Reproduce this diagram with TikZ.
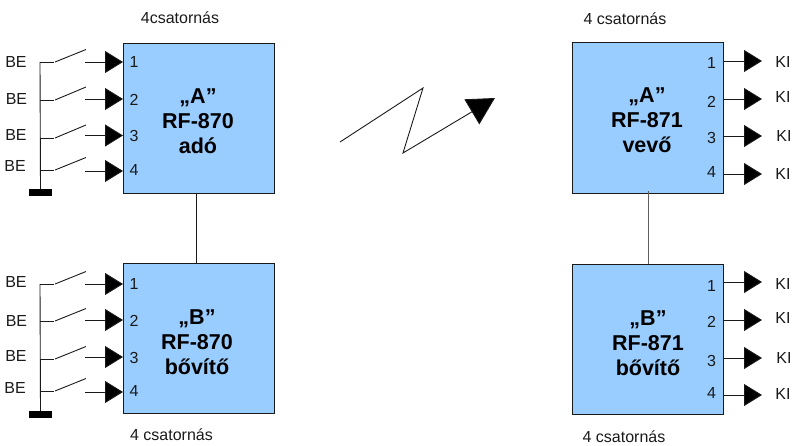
\documentclass[tikz,border=0pt]{standalone}
\usepackage{fontspec}
\setmainfont{Liberation Sans}
\usetikzlibrary{arrows.meta}
\definecolor{boxblue}{HTML}{99CCFF}
\definecolor{ink}{HTML}{1A1A1A}
\tikzset{
  x=1pt,y=-1pt,
  unitbox/.style={draw=ink,fill=boxblue,line width=1pt,minimum width=151pt,minimum height=150pt,inner sep=0pt,anchor=north west},
  title/.style={font=\fontsize{21.5}{25}\selectfont\bfseries,align=center,text=black,inner sep=0pt},
  lbl/.style={font=\fontsize{16}{18}\selectfont,text=ink,inner sep=0pt},
  wire/.style={draw=ink,line width=0.9pt},
  sig/.style={wire,-{Triangle[length=18pt,width=22pt,fill=black]}},
  bigtip/.style={wire,-{Triangle[length=27pt,width=29pt,fill=black]}},
  gnd/.style={fill=black,draw=none,minimum width=23pt,minimum height=7pt,inner sep=0pt}
}
\begin{document}
\begin{tikzpicture}
\useasboundingbox (0,0) rectangle (795,445);
% boxes
\node[unitbox] (txa) at (123,43) {};
\node[unitbox] (txb) at (123,263) {};
\node[unitbox,minimum height=151pt] (rxa) at (572,42) {};
\node[unitbox] (rxb) at (572,263.5) {};
% titles
\node[title] (ttxa) at (198,121) {„A”\\RF-870\\adó};
\node[title] (ttxb) at (197,342) {„B”\\RF-870\\bővítő};
\node[title] (trxa) at (647,120.5) {„A”\\RF-871\\vevő};
\node[title] (trxb) at (648,343) {„B”\\RF-871\\bővítő};
% caption labels
\node[lbl] (cap1) at (180,18) {4csatornás};
\node[lbl] (cap2) at (171.5,435) {4 csatornás};
\node[lbl] (cap3) at (625,19) {4 csatornás};
\node[lbl] (cap4) at (624,437) {4 csatornás};
% links between boxes
\draw[wire] (196,192.5) coordinate (la) -- (196,263) coordinate (lb);
\draw[wire,draw=ink!70] (648,191) coordinate (ra) -- (648,263.5) coordinate (rb);
% transmitter inputs
\foreach \n/\sy/\cy/\by/\ly/\lx/\dx/\dy/\dd in {
  a1/62/62/49.5/62/16/134/62/1,
  a2/99/100/87/99/16.5/134/100/2,
  a3/135.5/138/125/135/16/134/136/3,
  a4/171/170/157.5/166/15/134/170/4,
  b1/284/284/271.5/282/16/134/284/1,
  b2/320/321/308.5/321/16.5/134/321/2,
  b3/357/359/346.5/356/16/134/358/3,
  b4/392/391/378.5/388/15/134/391/4}{
  \coordinate (s\n) at (85,\sy);
  \coordinate (t\n) at (123,\sy);
  \draw[sig] (s\n) -- (t\n);
  \coordinate (h\n) at (40,\cy);
  \coordinate (g\n) at (53.5,\cy);
  \coordinate (c\n) at (55,\cy);
  \coordinate (e\n) at (86,\by);
  \draw[wire] (h\n) -- (g\n);
  \draw[wire] (c\n) -- (e\n);
  \node[lbl] (be\n) at (\lx,\ly) {BE};
  \node[lbl] (d\n) at (\dx,\dy) {\dd};
}
% grounds
\node[gnd] (gnda) at (40.5,192.5) {};
\node[gnd] (gndb) at (40.5,414.5) {};
\draw[wire] (ha1) -- (gnda.north);
\draw[wire] (hb1) -- (gndb.north);
% receiver outputs
\foreach \n/\sy/\ky/\kx/\dy/\dd in {
  a1/61/62/783/63/1,
  a2/99/97/783/102/2,
  a3/136/136/784/138/3,
  a4/174/174/783/172/4,
  b1/282/284/783/286/1,
  b2/320/318/783/322/2,
  b3/358/358/784/361/3,
  b4/395/394/783/393/4}{
  \coordinate (rs\n) at (723,\sy);
  \coordinate (rt\n) at (762,\sy);
  \draw[sig] (rs\n) -- (rt\n);
  \node[lbl] (ki\n) at (\kx,\ky) {KI};
  \node[lbl] (rd\n) at (711.5,\dy) {\dd};
}
% radio link
\coordinate (z0) at (340,142);
\coordinate (z1) at (423,88);
\coordinate (z2) at (403,153);
\coordinate (z3) at (495,98);
\draw[bigtip,line join=miter] (z0) -- (z1) -- (z2) -- (z3);
\end{tikzpicture}
\end{document}
